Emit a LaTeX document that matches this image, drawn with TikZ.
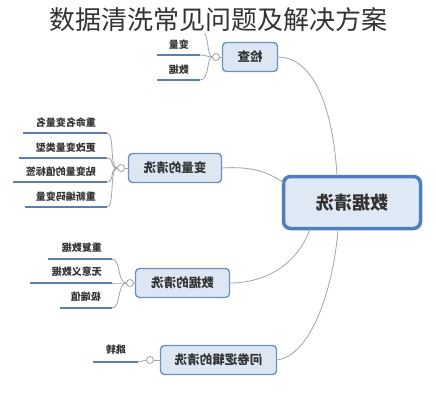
\documentclass[tikz,border=0pt]{standalone}
\usepackage{fontspec}
\usepackage{graphicx}
\newfontfamily\cjk{Noto Sans CJK SC}
\definecolor{conn}{HTML}{A4A4A4}
\definecolor{leafline}{HTML}{5B7FAE}
\definecolor{boxfill}{HTML}{DDE7F4}
\definecolor{boxdraw}{HTML}{6A8EC0}
\definecolor{mainfill}{HTML}{DFE8F5}
\definecolor{maindraw}{HTML}{4E7EC0}
\definecolor{txt}{HTML}{333333}
\tikzset{
  branchbox/.style={draw=boxdraw, fill=boxfill, line width=1.3pt, rounded corners=4pt,
    inner sep=0pt, outer sep=0pt, minimum height=29pt, text=txt,
    font=\cjk\fontsize{12.5}{13}\selectfont\bfseries},
  mainbox/.style={draw=maindraw, fill=mainfill, line width=3.5pt, rounded corners=7pt,
    inner sep=0pt, outer sep=0pt, minimum width=137pt, minimum height=52pt, text=txt,
    font=\cjk\fontsize{18}{19}\selectfont\bfseries},
  leaftext/.style={inner sep=0pt, anchor=east, text=txt, font=\cjk\fontsize{10}{11}\selectfont\bfseries},
  leafline/.style={draw=leafline, line width=2pt},
  connline/.style={draw=conn, line width=0.8pt},
  knob/.style={circle, draw=conn, fill=white, line width=0.8pt, minimum size=7pt, inner sep=0pt, outer sep=0pt},
}
\newcommand{\mir}[1]{\reflectbox{#1}}
\begin{document}
\begin{tikzpicture}[x=1pt,y=-1pt]
\useasboundingbox (0,0) rectangle (436,400);
\fill[white] (0,0) rectangle (436,400);

% main nodes
\node[mainbox] (sj) at (352,202.5) {\mir{数据清洗}};
\node[branchbox, minimum width=55pt] (jc) at (250,57) {\mir{检查}};
\node[branchbox, minimum width=93pt] (bl) at (175,168) {\mir{变量的清洗}};
\node[branchbox, minimum width=94pt] (dq) at (182.5,283) {\mir{数据的清洗}};
\node[branchbox, minimum width=116pt] (wj) at (218.5,360) {\mir{问卷逻辑的清洗}};

% connectors main -> branches
\coordinate (sjA) at (337,176);
\coordinate (sjB) at (284,183);
\coordinate (sjC) at (310,229);
\coordinate (sjD) at (338,229);
\draw[connline] (jc.east) .. controls (318,57) and (334,120) .. (sjA);
\draw[connline] (bl.east) .. controls (252,166) and (268,172) .. (sjB);
\draw[connline] (dq.east) .. controls (272,283) and (300,258) .. (sjC);
\draw[connline] (wj.east) .. controls (312,356) and (334,285) .. (sjD);

% knobs
\node[knob] (k1) at (216,57) {};
\node[knob] (k2) at (121,168) {};
\node[knob] (k3) at (130,283) {};
\node[knob] (k4) at (150,360) {};
\draw[connline] (k1.east) -- (jc.west);
\draw[connline] (k2.east) -- (bl.west);
\draw[connline] (k3.east) -- (dq.west);
\draw[connline] (k4.east) -- (wj.west);

% group: 检查
\coordinate (a0) at (201,31);
\coordinate (a1s) at (157,55); \coordinate (a1) at (200,55);
\coordinate (a2s) at (157,80); \coordinate (a2) at (200,80);
\draw[leafline] (a1s) -- (a1);
\draw[leafline] (a2s) -- (a2);
\draw[connline] (k1.west) .. controls (206,57) and (210,31) .. (a0);
\draw[connline] (k1.west) .. controls (207,57) and (207,55) .. (a1);
\draw[connline] (k1.west) .. controls (206,57) and (210,80) .. (a2);
\node[leaftext] (t1) at (189,45) {\mir{变量}};
\node[leaftext] (t2) at (189,70) {\mir{数据}};

% group: 变量的清洗
\coordinate (b1s) at (23,133) ; \coordinate (b1) at (107,133);
\coordinate (b2s) at (19,158) ; \coordinate (b2) at (107,158);
\coordinate (b3s) at (13,182) ; \coordinate (b3) at (107,182);
\coordinate (b4s) at (25,207) ; \coordinate (b4) at (107,207);
\foreach \i in {1,2,3,4} {\draw[leafline] (b\i s) -- (b\i);}
\foreach \i in {1,2,3,4} {\draw[connline] (k2.west) .. controls (109,168) and ([xshift=8pt]b\i) .. (b\i);}
\node[leaftext] (u1) at (96,123) {\mir{重命名变量名}};
\node[leaftext] (u2) at (96,148) {\mir{更改变量类型}};
\node[leaftext] (u3) at (96,172) {\mir{贴变量的值标签}};
\node[leaftext] (u4) at (96,197) {\mir{重新编码变量}};

% group: 数据的清洗
\coordinate (c1s) at (48,259) ; \coordinate (c1) at (112,259);
\coordinate (c2s) at (30,283) ; \coordinate (c2) at (112,283);
\coordinate (c3s) at (60,308) ; \coordinate (c3) at (112,308);
\foreach \i in {1,2,3} {\draw[leafline] (c\i s) -- (c\i);}
\foreach \i in {1,2,3} {\draw[connline] (k3.west) .. controls (117,283) and ([xshift=9pt]c\i) .. (c\i);}
\node[leaftext] (v1) at (102,248) {\mir{重复数据}};
\node[leaftext] (v2) at (102,272) {\mir{无意义数据}};
\node[leaftext] (v3) at (101,297) {\mir{极端值}};

% group: 问卷逻辑的清洗
\coordinate (d1s) at (93,362) ; \coordinate (d1) at (138,362);
\draw[leafline] (d1s) -- (d1);
\draw[connline] (d1) -- (k4.west);
\node[leaftext] (w1) at (126,350) {\mir{跳转}};

% title
\node[text=txt, font=\cjk\fontsize{26}{27}\selectfont, fill=white, inner sep=1pt] (title) at (218,20) {数据清洗常见问题及解决方案};
\end{tikzpicture}
\end{document}
